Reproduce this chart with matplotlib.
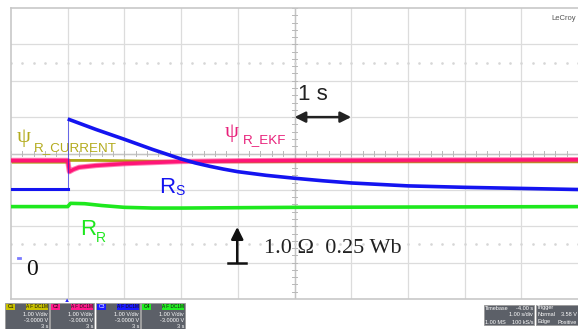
import matplotlib
matplotlib.use("Agg")
import matplotlib.pyplot as plt
from matplotlib.patches import Rectangle, FancyArrowPatch

W, H, DPI = 578, 329, 100

# ---- traces (x: seconds from trigger, 1 s/div; y: divisions from screen centre) ----
psi_cur_t = [-1.0, 0.0, 0.0, 0.5, 1.0, 2.0, 3.0, 9.0]
psi_cur_v = [-0.24, -0.24, -0.19, -0.19, -0.20, -0.22, -0.23, -0.23]

psi_ekf_t = [-1.0, 0.0, 0.03, 0.1, 0.2, 0.5, 1.0, 1.5, 2.0, 3.0, 4.0, 9.0]
psi_ekf_v = [-0.19, -0.19, -0.50, -0.44, -0.38, -0.33, -0.28, -0.25, -0.22, -0.20, -0.19, -0.17]

rs_t = [-1.0, 0.0, 0.0, 0.5, 1.0, 1.5, 1.75, 2.0, 2.25, 2.5, 2.75, 3.0, 3.5, 4.0,
        4.5, 5.0, 6.0, 7.0, 8.0, 9.0]
rs_v = [-0.98, -0.98, 0.95, 0.66, 0.39, 0.11, -0.02, -0.15, -0.26, -0.35, -0.43,
        -0.50, -0.60, -0.68, -0.75, -0.81, -0.89, -0.93, -0.96, -0.99]

rr_t = [-1.0, 0.0, 0.05, 0.3, 0.6, 1.0, 1.5, 2.0, 4.0, 9.0]
rr_v = [-1.46, -1.46, -1.37, -1.38, -1.43, -1.48, -1.50, -1.50, -1.48, -1.46]

trace_colors = {
    "psi_cur": "#aea414",
    "psi_ekf": "#ff1577",
    "rs": "#1414f0",
    "rr": "#1ee81e",
}

fig = plt.figure(figsize=(W / DPI, H / DPI), dpi=DPI)
fig.patch.set_facecolor("white")

ax = fig.add_axes([11 / W, 30 / H, 567 / W, 291 / H])
ax.set_xlim(-1, 9)
ax.set_ylim(-4, 4)
ax.set_facecolor("white")
for side in ("top", "left", "bottom"):
    ax.spines[side].set_color("#c8c8c8")
    ax.spines[side].set_linewidth(1.2)
ax.spines["right"].set_visible(False)
ax.set_xticks([])
ax.set_yticks([])

# graticule: 10 x 8 divisions, centre lines carry minor ticks
grid_c = "#dcdcdc"
for gx in range(0, 9):
    ax.axvline(gx, color=grid_c, lw=0.9, zorder=0)
for gy in range(-3, 4):
    ax.axhline(gy, color=grid_c, lw=0.9, zorder=0)
ax.axvline(4, color="#c4c4c4", lw=1.0, zorder=0)
ax.axhline(0, color="#c4c4c4", lw=1.0, zorder=0)
for i in range(-20, 21):
    y = i / 5
    ax.plot([3.955, 4.045], [y, y], color="#b8b8b8", lw=0.7, zorder=0)
for i in range(-5, 46):
    x = i / 5
    ax.plot([x, x], [-0.07, 0.07], color="#b8b8b8", lw=0.7, zorder=0)
for y in (2.5, -2.5):
    ax.plot([i / 5 for i in range(-5, 46)], [y] * 51, ls="none", marker="s",
            ms=0.8, color="#d6d6d6", zorder=0)

# waveforms
ax.plot(psi_cur_t, psi_cur_v, color=trace_colors["psi_cur"], lw=2.0, zorder=2)
ax.plot(psi_ekf_t, psi_ekf_v, color=trace_colors["psi_ekf"], lw=3.8, alpha=0.55,
        zorder=3, solid_capstyle="butt")
ax.plot(psi_ekf_t, psi_ekf_v, color=trace_colors["psi_ekf"], lw=2.4, zorder=3,
        solid_capstyle="butt")
ax.plot(rs_t[:2], rs_v[:2], color=trace_colors["rs"], lw=2.2, zorder=4)
ax.plot(rs_t[1:3], rs_v[1:3], color=trace_colors["rs"], lw=0.7, alpha=0.6, zorder=4)
ax.plot(rs_t[2:], rs_v[2:], color=trace_colors["rs"], lw=2.6, zorder=4,
        solid_capstyle="butt", solid_joinstyle="round")
ax.plot(rr_t, rr_v, color=trace_colors["rr"], lw=2.6, zorder=4)

# trace labels
sans = ["Liberation Sans", "DejaVu Sans"]
serif = ["Liberation Serif", "DejaVu Serif"]
ax.text(-0.90, 0.32, "\u03c8", color="#b3ab1c", fontsize=16, family=serif, va="baseline")
ax.text(-0.59, 0.07, "R_CURRENT", color="#b3ab1c", fontsize=9.6, family=sans, va="baseline")
ax.text(2.77, 0.45, "\u03c8", color="#e8207a", fontsize=16, family=serif, va="baseline")
ax.text(3.09, 0.29, "R_EKF", color="#e8207a", fontsize=9.6, family=sans, va="baseline")
ax.text(1.62, -1.09, "R", color="#1414f0", fontsize=16, family=sans, va="baseline")
ax.text(1.90, -1.15, "S", color="#1414f0", fontsize=10, family=sans, va="baseline")
ax.text(0.22, -2.24, "R", color="#1ee81e", fontsize=16, family=sans, va="baseline")
ax.text(0.49, -2.42, "R", color="#1ee81e", fontsize=10, family=sans, va="baseline")

# zero marker and scale annotations
ax.text(-0.74, -3.33, "0", color="#111111", fontsize=17, family=serif, va="baseline")
ax.plot([-0.88, -0.84], [-2.86, -2.86], color="#7a7aff", lw=2.0)
ax.text(3.46, -2.74, "1.0 \u03a9  0.25 Wb", color="#222222", fontsize=16,
        family=serif, va="baseline")
ax.add_patch(FancyArrowPatch((2.99, -3.01), (2.99, -2.02), arrowstyle="-|>",
                             mutation_scale=18, color="#111111", lw=1.8,
                             shrinkA=0, shrinkB=0))
ax.plot([2.83, 3.15], [-3.01, -3.01], color="#111111", lw=1.8)

ax.text(4.07, 1.47, "1 s", color="#222222", fontsize=16, family=sans, va="baseline")
ax.add_patch(FancyArrowPatch((4.0, 1.0), (5.0, 1.0), arrowstyle="<|-|>",
                             mutation_scale=16, color="#222222", lw=1.8,
                             shrinkA=0, shrinkB=0))

# brand mark
ax.text(8.97, 3.72, "LeCroy", color="#555555", fontsize=5.5, family=sans,
        ha="right", va="center", zorder=6)

# trigger marker under the grid
fig.text(67 / W, 1 - 301 / H, "\u25b2", color="#2a2aff", fontsize=4.5,
         ha="center", va="center", family=sans)

# channel / timebase descriptor boxes
chan_boxes = [
    ("C1", "#c8c000", "#000000", 5),
    ("C2", "#ff1a8c", "#000000", 50),
    ("C3", "#1a1aff", "#ffffff", 96),
    ("C4", "#22ee22", "#000000", 141),
]
for name, col, tcol, x0 in chan_boxes:
    fig.patches.append(Rectangle((x0 / W, 0), 44 / W, 26 / H, transform=fig.transFigure,
                                 facecolor="#5c6068", edgecolor="#9a9a9a", lw=0.6))
    fig.patches.append(Rectangle(((x0 + 1) / W, 1 - 310 / H), 9 / W, 6 / H,
                                 transform=fig.transFigure, facecolor=col, lw=0))
    fig.text((x0 + 5.5) / W, 1 - 307 / H, name, fontsize=3.6, color=tcol,
             ha="center", va="center", family=sans)
    fig.text((x0 + 43) / W, 1 - 307 / H, "A F DC1M", fontsize=3.4, color="#111111",
             ha="right", va="center", family=sans,
             bbox=dict(boxstyle="square,pad=0.1", fc=col, ec="none"))
    fig.text((x0 + 43) / W, 1 - 314 / H, "1.00 V/div", fontsize=4.0, color="white",
             ha="right", va="center", family=sans)
    fig.text((x0 + 43) / W, 1 - 320.5 / H, "-3.0000 V", fontsize=4.0, color="white",
             ha="right", va="center", family=sans)
    fig.text((x0 + 43) / W, 1 - 327 / H, "3 s", fontsize=4.0, color="white",
             ha="right", va="center", family=sans)

fig.patches.append(Rectangle((484 / W, 1 - 325 / H), 50 / W, 20 / H,
                             transform=fig.transFigure, facecolor="#5c6068",
                             edgecolor="#9a9a9a", lw=0.6))
fig.patches.append(Rectangle((536 / W, 1 - 325 / H), 42 / W, 20 / H,
                             transform=fig.transFigure, facecolor="#5c6068",
                             edgecolor="#9a9a9a", lw=0.6))
fig.text(485 / W, 1 - 308 / H, "Timebase", fontsize=4.0, color="white", va="center", family=sans)
fig.text(533 / W, 1 - 308 / H, "-4.00 s", fontsize=4.0, color="white", ha="right", va="center", family=sans)
fig.text(533 / W, 1 - 315 / H, "1.00 s/div", fontsize=4.0, color="white", ha="right", va="center", family=sans)
fig.text(485 / W, 1 - 322 / H, "1.00 MS", fontsize=4.0, color="white", va="center", family=sans)
fig.text(533 / W, 1 - 322 / H, "100 kS/s", fontsize=4.0, color="white", ha="right", va="center", family=sans)
fig.text(537 / W, 1 - 308 / H, "Trigger", fontsize=4.0, color="white", va="center", family=sans)
fig.text(537 / W, 1 - 315 / H, "Normal", fontsize=4.0, color="white", va="center", family=sans)
fig.text(577 / W, 1 - 315 / H, "3.58 V", fontsize=4.0, color="white", ha="right", va="center", family=sans)
fig.text(537 / W, 1 - 322 / H, "Edge", fontsize=4.0, color="white", va="center", family=sans)
fig.text(577 / W, 1 - 322 / H, "Positive", fontsize=4.0, color="white", ha="right", va="center", family=sans)

fig.savefig("out.png", dpi=DPI, facecolor="white")
